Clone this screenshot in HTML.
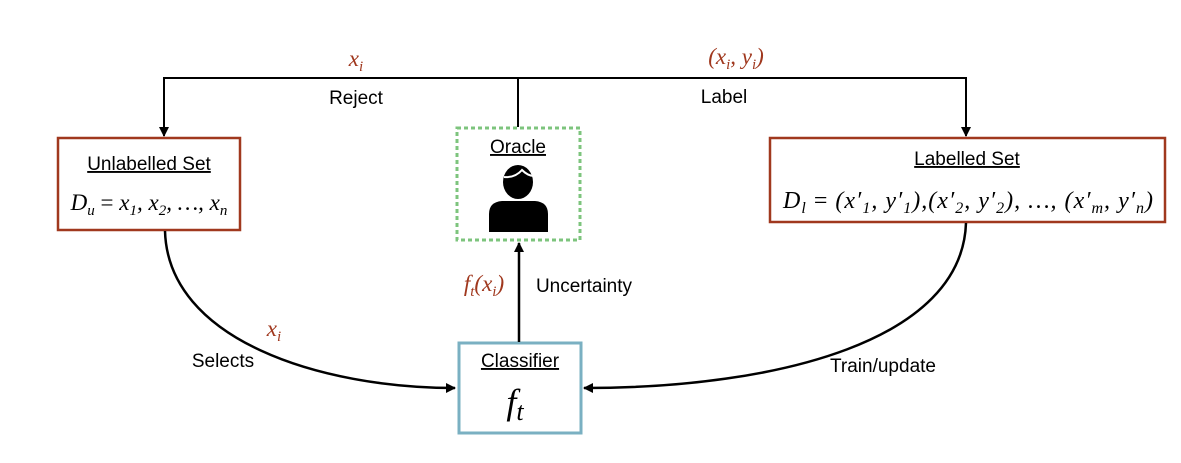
<!DOCTYPE html>
<html><head><style>
body{margin:0;background:#fff;}
svg text{font-family:"Liberation Sans",sans-serif;}
.m{font-family:"Liberation Serif",serif;font-style:italic;}
</style></head><body>
<svg width="1181" height="458" viewBox="0 0 1181 458" xmlns="http://www.w3.org/2000/svg">
<defs><marker id="a" markerWidth="10" markerHeight="10" refX="9" refY="5" orient="auto" markerUnits="userSpaceOnUse"><path d="M0,0 L10,5 L0,10 z" fill="#000"/></marker></defs>
<rect width="1181" height="458" fill="#fff"/>
<path d="M164,78 L966,78" stroke="#000" stroke-width="2" fill="none"/>
<path d="M164,77 L164,136" stroke="#000" stroke-width="2" fill="none" marker-end="url(#a)"/>
<path d="M966,77 L966,136" stroke="#000" stroke-width="2" fill="none" marker-end="url(#a)"/>
<path d="M518,78 L518,127" stroke="#000" stroke-width="2" fill="none"/>
<rect x="58" y="138" width="182" height="92" fill="#fff" stroke="#a0381e" stroke-width="2.5"/>
<rect x="457" y="128" width="123" height="112" fill="#fff" stroke="#7dc47d" stroke-width="3" stroke-dasharray="4,3"/>
<rect x="770" y="138" width="395" height="84" fill="#fff" stroke="#a0381e" stroke-width="2.5"/>
<rect x="459" y="343" width="122" height="90" fill="#fff" stroke="#7ab0c2" stroke-width="3"/>
<path d="M165,231 C168,340 320,388 455,388" stroke="#000" stroke-width="2.5" fill="none" marker-end="url(#a)"/>
<path d="M966,223 C962,340 780,388 584,388" stroke="#000" stroke-width="2.5" fill="none" marker-end="url(#a)"/>
<path d="M519,342 L519,243" stroke="#000" stroke-width="2.5" fill="none" marker-end="url(#a)"/>
<text x="149" y="170" font-size="19" text-anchor="middle" text-decoration="underline">Unlabelled Set</text>
<text x="149" y="210" font-size="23" text-anchor="middle" class="m">D<tspan font-size="15" dy="5">u</tspan><tspan dy="-5" font-style="normal"> = </tspan>x<tspan font-size="15" dy="5">1</tspan><tspan dy="-5">, x</tspan><tspan font-size="15" dy="5">2</tspan><tspan dy="-5">, …, x</tspan><tspan font-size="15" dy="5">n</tspan></text>
<text x="518" y="153" font-size="19" text-anchor="middle" text-decoration="underline">Oracle</text>
<path d="M489,232 L489,214 Q489,202 502,201 L535,201 Q548,202 548,214 L548,232 Z" fill="#000"/>
<ellipse cx="518" cy="182" rx="15" ry="17" fill="#000"/>
<path d="M504,177 Q515,178 522,170 Q528,176 534,176" stroke="#fff" stroke-width="2" fill="none"/>
<text x="967" y="165" font-size="19" text-anchor="middle" text-decoration="underline">Labelled Set</text>
<text x="968" y="208" font-size="24" text-anchor="middle" class="m" textLength="370" lengthAdjust="spacing">D<tspan font-size="16" dy="5">l</tspan><tspan dy="-5" font-style="normal"> = </tspan>(x′<tspan font-size="16" dy="5">1</tspan><tspan dy="-5">, y′</tspan><tspan font-size="16" dy="5">1</tspan><tspan dy="-5">),(x′</tspan><tspan font-size="16" dy="5">2</tspan><tspan dy="-5">, y′</tspan><tspan font-size="16" dy="5">2</tspan><tspan dy="-5">), …, (x′</tspan><tspan font-size="16" dy="5">m</tspan><tspan dy="-5">, y′</tspan><tspan font-size="16" dy="5">n</tspan><tspan dy="-5">)</tspan></text>
<text x="520" y="367" font-size="19" text-anchor="middle" text-decoration="underline">Classifier</text>
<text x="515" y="414" font-size="36" text-anchor="middle" class="m">f<tspan font-size="26" dy="6">t</tspan></text>
<text x="356" y="66" font-size="23" class="m" fill="#a0381e" text-anchor="middle">x<tspan font-size="15" dy="5">i</tspan></text>
<text x="356" y="104" font-size="19" text-anchor="middle">Reject</text>
<text x="736" y="64" font-size="23" class="m" fill="#a0381e" text-anchor="middle">(x<tspan font-size="15" dy="5">i</tspan><tspan dy="-5">, y</tspan><tspan font-size="15" dy="5">i</tspan><tspan dy="-5">)</tspan></text>
<text x="724" y="103" font-size="19" text-anchor="middle">Label</text>
<text x="274" y="336" font-size="23" class="m" fill="#a0381e" text-anchor="middle">x<tspan font-size="15" dy="5">i</tspan></text>
<text x="223" y="367" font-size="19" text-anchor="middle">Selects</text>
<text x="484" y="291" font-size="23" class="m" fill="#a0381e" text-anchor="middle">f<tspan font-size="15" dy="5">t</tspan><tspan dy="-5">(x</tspan><tspan font-size="15" dy="5">i</tspan><tspan dy="-5">)</tspan></text>
<text x="584" y="292" font-size="19" text-anchor="middle">Uncertainty</text>
<text x="883" y="372" font-size="19" text-anchor="middle">Train/update</text>
</svg>
</body></html>
